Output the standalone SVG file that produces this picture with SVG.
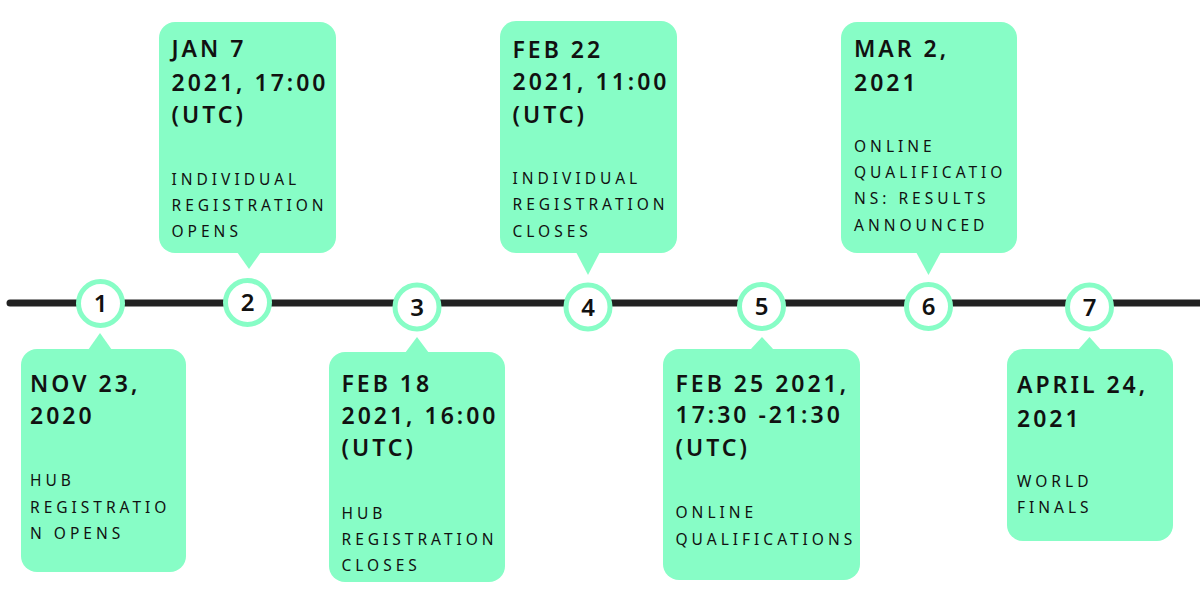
<svg xmlns="http://www.w3.org/2000/svg" width="1200" height="600" viewBox="0 0 1200 600">
<style>
.box{fill:#87FDC6}
.dot{fill:#ffffff;stroke:#87FDC6;stroke-width:5}
.num{font-family:"Noto Sans","DejaVu Sans",sans-serif;font-size:24px;font-weight:600;fill:#111;text-anchor:middle}
.ttl{font-family:"Noto Sans","DejaVu Sans",sans-serif;font-size:23px;font-weight:600;fill:#111;letter-spacing:3px}
.sub{font-family:"Noto Sans","DejaVu Sans",sans-serif;font-size:15.5px;font-weight:400;fill:#111;letter-spacing:4px}
.line{stroke:#222;stroke-width:7;stroke-linecap:round;fill:none}
</style>
<rect width="1200" height="600" fill="#ffffff"/>
<g id="connectors">
<line class="line" x1="10" y1="303" x2="1204" y2="303"/>
</g>
<g id="node1">
<rect class="box" x="21" y="349" width="165" height="223" rx="16"/>
<polygon class="box" points="88,350 100,333 112,350"/>
<circle class="dot" cx="100.5" cy="303.5" r="22"/>
<text class="num" x="100.5" y="312">1</text>
<text class="ttl" x="30" y="392">NOV 23,</text>
<text class="ttl" x="30" y="424">2020</text>
<text class="sub" x="30" y="486">HUB</text>
<text class="sub" x="30" y="513">REGISTRATIO</text>
<text class="sub" x="30" y="539">N OPENS</text>
</g>
<g id="node2">
<rect class="box" x="159" y="22" width="177" height="231" rx="16"/>
<polygon class="box" points="237,252 249,269 261,252"/>
<circle class="dot" cx="247.5" cy="302.5" r="22"/>
<text class="num" x="247.5" y="311">2</text>
<text class="ttl" x="171.5" y="57">JAN 7</text>
<text class="ttl" x="171.5" y="91">2021, 17:00</text>
<text class="ttl" x="171.5" y="123">(UTC)</text>
<text class="sub" x="171.5" y="185">INDIVIDUAL</text>
<text class="sub" x="171.5" y="211">REGISTRATION</text>
<text class="sub" x="171.5" y="237">OPENS</text>
</g>
<g id="node3">
<rect class="box" x="329" y="352" width="176" height="230" rx="16"/>
<polygon class="box" points="405,353 417,337 429,353"/>
<circle class="dot" cx="417" cy="307" r="22"/>
<text class="num" x="417" y="315.5">3</text>
<text class="ttl" x="341.5" y="392">FEB 18</text>
<text class="ttl" x="341.5" y="424">2021, 16:00</text>
<text class="ttl" x="341.5" y="456">(UTC)</text>
<text class="sub" x="341.5" y="519">HUB</text>
<text class="sub" x="341.5" y="545">REGISTRATION</text>
<text class="sub" x="341.5" y="571">CLOSES</text>
</g>
<g id="node4">
<rect class="box" x="500" y="21" width="177" height="232" rx="16"/>
<polygon class="box" points="576,252 588,275 600,252"/>
<circle class="dot" cx="588" cy="307" r="22"/>
<text class="num" x="588" y="315.5">4</text>
<text class="ttl" x="512.5" y="58">FEB 22</text>
<text class="ttl" x="512.5" y="90">2021, 11:00</text>
<text class="ttl" x="512.5" y="123">(UTC)</text>
<text class="sub" x="512.5" y="184">INDIVIDUAL</text>
<text class="sub" x="512.5" y="210">REGISTRATION</text>
<text class="sub" x="512.5" y="237">CLOSES</text>
</g>
<g id="node5">
<rect class="box" x="663" y="349" width="197" height="231" rx="16"/>
<polygon class="box" points="750,350 762,337 774,350"/>
<circle class="dot" cx="761.5" cy="306.5" r="22"/>
<text class="num" x="761.5" y="315">5</text>
<text class="ttl" x="675.5" y="392">FEB 25 2021,</text>
<text class="ttl" x="675.5" y="423">17:30 -21:30</text>
<text class="ttl" x="675.5" y="456">(UTC)</text>
<text class="sub" x="675.5" y="518">ONLINE</text>
<text class="sub" x="675.5" y="545">QUALIFICATIONS</text>
</g>
<g id="node6">
<rect class="box" x="841" y="22" width="176" height="231" rx="16"/>
<polygon class="box" points="916,252 928.5,275 941,252"/>
<circle class="dot" cx="928.5" cy="306.5" r="22"/>
<text class="num" x="928.5" y="315">6</text>
<text class="ttl" x="854" y="57">MAR 2,</text>
<text class="ttl" x="854" y="91">2021</text>
<text class="sub" x="854" y="152">ONLINE</text>
<text class="sub" x="854" y="178">QUALIFICATIO</text>
<text class="sub" x="854" y="204">NS: RESULTS</text>
<text class="sub" x="854" y="231">ANNOUNCED</text>
</g>
<g id="node7">
<rect class="box" x="1007" y="349" width="166" height="192" rx="16"/>
<polygon class="box" points="1078,350 1089.5,337 1101,350"/>
<circle class="dot" cx="1089.5" cy="307" r="22"/>
<text class="num" x="1089.5" y="315.5">7</text>
<text class="ttl" x="1017" y="393">APRIL 24,</text>
<text class="ttl" x="1017" y="427">2021</text>
<text class="sub" x="1017" y="487">WORLD</text>
<text class="sub" x="1017" y="513">FINALS</text>
</g>
</svg>
